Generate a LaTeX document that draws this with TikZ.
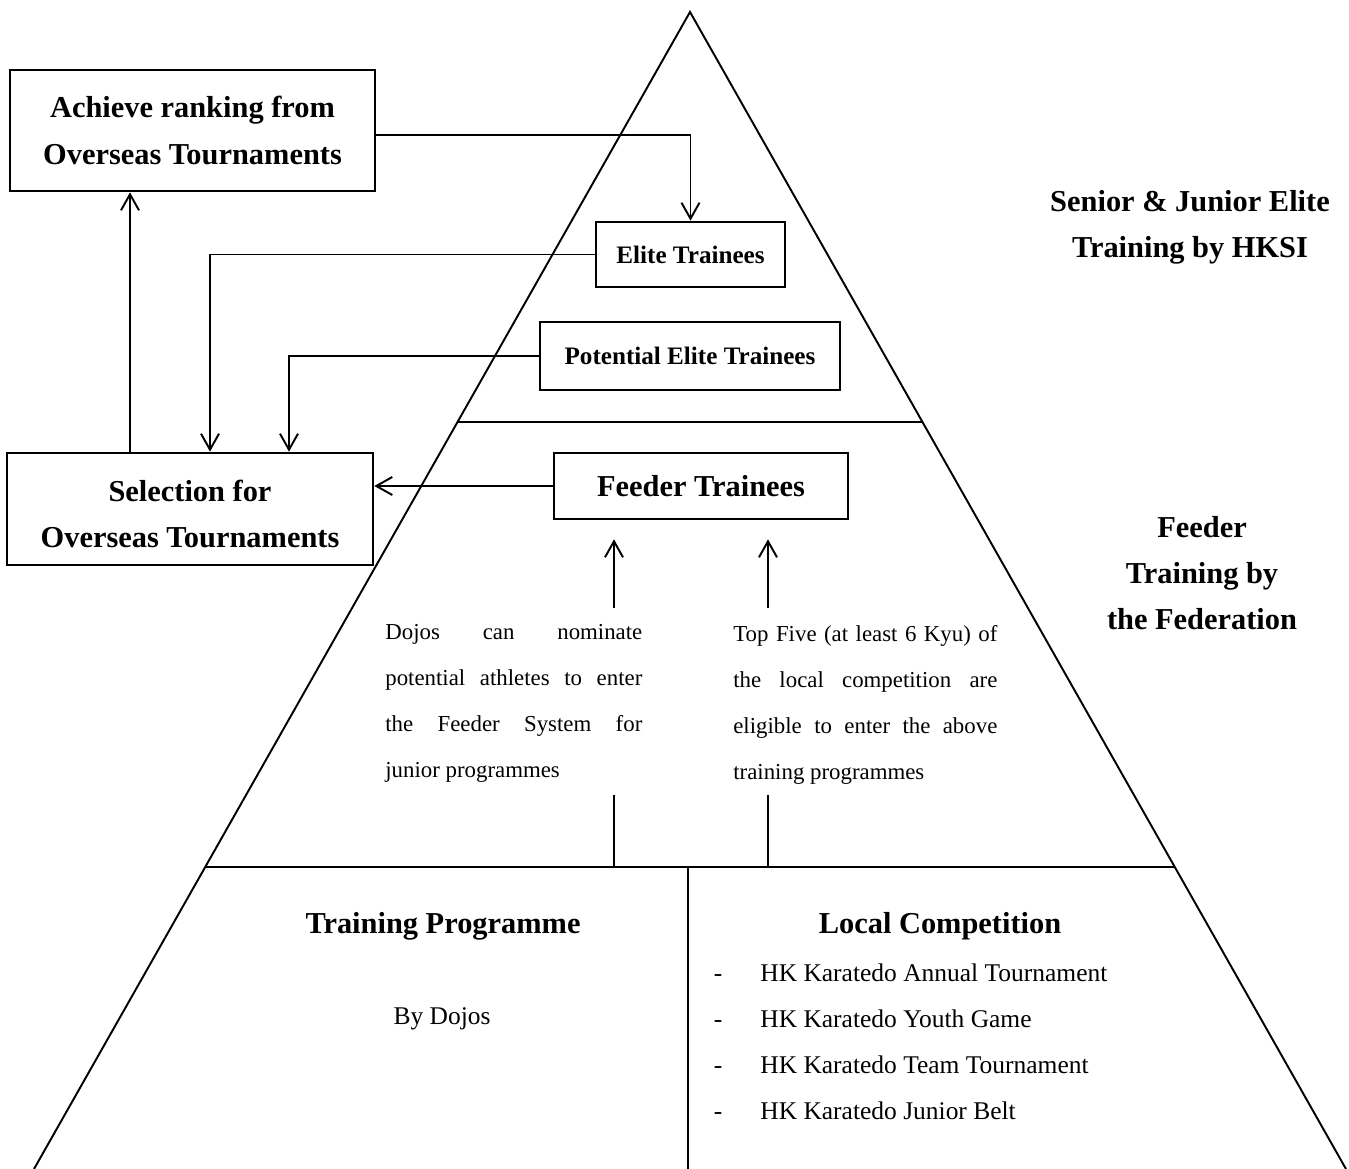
\documentclass[tikz,border=0pt]{standalone}
\usepackage{fontspec}
\setmainfont{Liberation Serif}
\usetikzlibrary{arrows.meta,calc}

\tikzset{
  box/.style={draw,line width=1.5pt,inner sep=0pt,align=center},
  bigtxt/.style={font=\bfseries\fontsize{17.3}{26.2}\selectfont,align=center},
  midtxt/.style={font=\bfseries\fontsize{14.3}{20}\selectfont},
  plaintxt/.style={font=\fontsize{14.5}{20}\selectfont,inner sep=0pt},
  paratxt/.style={font=\fontsize{13}{26.2}\selectfont,align=justify,inner sep=0pt,anchor=north west},
  arr/.style={-{Straight Barb[length=0.32cm,width=0.36cm]},line width=1.1pt},
  edge/.style={line width=1.1pt}
}

\begin{document}
\begin{tikzpicture}[x=0.2mm,y=-0.2mm]
\useasboundingbox (0,0) rectangle (1349,1169);
% pyramid
\coordinate (apex) at (690,12);
\coordinate (bl) at (34,1169);
\coordinate (br) at (1346,1169);
\draw[edge] (bl) -- (apex) -- (br);
\draw[edge] (457.5,422) -- (922.5,422);%elite | feeder
\draw[edge] (205,867) -- (1175,867);%feeder | base
\draw[edge] (688,867) -- (688,1169);
% boxes
\node[box,bigtxt,minimum width=7.3cm,minimum height=2.42cm] (ach) at (192.5,130.5) {Achieve ranking from\\Overseas Tournaments};
\node[box,bigtxt,minimum width=7.32cm,minimum height=2.24cm] (sel) at (190,509) {\strut Selection for\\Overseas Tournaments};
\node[box,midtxt,minimum width=3.78cm,minimum height=1.3cm] (eli) at (690.5,254.5) {Elite Trainees};
\node[box,midtxt,minimum width=6cm,minimum height=1.36cm] (pot) at (690,356) {Potential Elite Trainees};
\node[box,bigtxt,minimum width=5.88cm,minimum height=1.32cm] (fee) at (701,486) {Feeder Trainees};
% arrows
\draw[arr] ([yshift=-0.09cm]ach.east) -| (eli.north);
\draw[arr] (eli.west) -| ([xshift=0.4cm]sel.north);
\draw[arr] (pot.west) -| ([xshift=1.98cm]sel.north);
\draw[arr] ([xshift=-1.2cm]sel.north) -- ([xshift=-1.2cm]sel.north |- ach.south);
\draw[arr] (fee.west) -- (fee.west -| sel.east);
% levels
\node[bigtxt] (hksi) at (1190,227) {Senior \& Junior Elite\\Training by HKSI};
\node[bigtxt] (fed) at (1202,573) {Feeder\\Training by\\the Federation};
% feeder paths
\node[paratxt,text width=5.14cm] (dojo) at (385,624) {Dojos can nominate\linebreak potential athletes to enter\linebreak the Feeder System for\linebreak junior programmes};
\node[paratxt,text width=5.28cm] (topf) at (733,625) {Top Five (at least 6 Kyu) of\linebreak the local competition are\linebreak eligible to enter the above\linebreak training programmes};
\coordinate (sA) at (614,608);
\coordinate (sB) at (768,608);
\draw[arr] (sA) -- ($(fee.south -| sA)+(0,19)$);
\draw[arr] (sB) -- ($(fee.south -| sB)+(0,19)$);
\coordinate (lA) at (614,795);
\coordinate (lB) at (768,795);
\coordinate (bA) at (614,867);
\coordinate (bB) at (768,867);
\draw[edge] (lA) -- (bA);
\draw[edge] (lB) -- (bB);
% base
\node[bigtxt] (prog) at (443,926) {Training Programme};
\node[bigtxt] (comp) at (940,926) {Local Competition};
\node[plaintxt] (dojos) at (442,1019) {By Dojos};
\node[plaintxt,anchor=west] (c1) at (760,973) {HK Karatedo Annual Tournament};
\node[plaintxt,anchor=west] (c2) at (760,1019) {HK Karatedo Youth Game};
\node[plaintxt,anchor=west] (c3) at (760,1065) {HK Karatedo Team Tournament};
\node[plaintxt,anchor=west] (c4) at (760,1111) {HK Karatedo Junior Belt};
\node[plaintxt,anchor=base] (m1) at ($(c1.base west)+(-42,0)$) {-};
\node[plaintxt,anchor=base] (m2) at ($(c2.base west)+(-42,0)$) {-};
\node[plaintxt,anchor=base] (m3) at ($(c3.base west)+(-42,0)$) {-};
\node[plaintxt,anchor=base] (m4) at ($(c4.base west)+(-42,0)$) {-};
\end{tikzpicture}
\end{document}
